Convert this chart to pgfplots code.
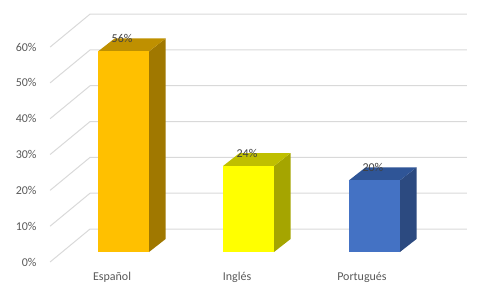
\documentclass[border=0pt]{standalone}
\usepackage{fontspec}
\setmainfont{Carlito}
\usepackage{pgfplots}
\pgfplotsset{compat=1.18}
\definecolor{gridc}{HTML}{D9D9D9}
\definecolor{ticktxt}{HTML}{595959}
\definecolor{labtxt}{HTML}{404040}
\definecolor{goldF}{HTML}{FFC000}
\definecolor{goldT}{HTML}{BF9000}
\definecolor{goldS}{HTML}{A07800}
\definecolor{yelF}{HTML}{FFFF00}
\definecolor{yelT}{HTML}{BFBF00}
\definecolor{yelS}{HTML}{A5A500}
\definecolor{bluF}{HTML}{4472C4}
\definecolor{bluT}{HTML}{2F5597}
\definecolor{bluS}{HTML}{2C4A80}
\begin{document}
\begin{tikzpicture}
\begin{axis}[
  scale only axis, width=481pt, height=294pt,
  xmin=0, xmax=481, ymin=-11.72, ymax=70.33,
  clip=false,
  /pgf/number format/assume math mode=true,
  axis line style={draw=none},
  major tick length=0pt,
  font=\fontsize{12}{14}\selectfont,
  xtick={112,237,362},
  xticklabels={Español,Inglés,Portugués},
  xticklabel style={anchor=center, yshift=17pt, text=ticktxt},
  ytick={-2.79,7.21,17.21,27.21,37.21,47.21,57.21},
  yticklabels={0\%,10\%,20\%,30\%,40\%,50\%,60\%},
  yticklabel style={anchor=east, xshift=40pt, text=ticktxt},
  every node near coord/.style={anchor=center, yshift=13pt, xshift=-1.5pt, text=labtxt, font=\fontsize{12}{14}\selectfont},
]
\path (rel axis cs:0,0) rectangle (rel axis cs:1,1);
% floor / wall gridlines
\addplot[gridc, line width=1pt] coordinates {(50,-2.79) (90,6.42) (467,6.42)};
\addplot[gridc, line width=1pt] coordinates {(50,7.21) (90,16.42) (467,16.42)};
\addplot[gridc, line width=1pt] coordinates {(50,17.21) (90,26.42) (467,26.42)};
\addplot[gridc, line width=1pt] coordinates {(50,27.21) (90,36.42) (467,36.42)};
\addplot[gridc, line width=1pt] coordinates {(50,37.21) (90,46.42) (467,46.42)};
\addplot[gridc, line width=1pt] coordinates {(50,47.21) (90,56.42) (467,56.42)};
\addplot[gridc, line width=1pt] coordinates {(50,57.21) (90,66.42) (467,66.42)};
% Español
\addplot[fill=goldS, draw=none] coordinates {(149,0) (165.6,3.63) (165.6,59.63) (149,56)} --cycle;
\addplot[fill=goldT, draw=none] coordinates {(98,56) (149,56) (165.6,59.63) (114.6,59.63)} --cycle;
\addplot[ybar, bar shift=0pt, bar width=51, fill=goldF, draw=none,
  point meta=y, nodes near coords={\pgfmathprintnumber{\pgfplotspointmeta}\%}]
  coordinates {(123.5,56)};
% Inglés
\addplot[fill=yelS, draw=none] coordinates {(274,0) (290.6,3.63) (290.6,27.63) (274,24)} --cycle;
\addplot[fill=yelT, draw=none] coordinates {(223,24) (274,24) (290.6,27.63) (239.6,27.63)} --cycle;
\addplot[ybar, bar shift=0pt, bar width=51, fill=yelF, draw=none,
  point meta=y, nodes near coords={\pgfmathprintnumber{\pgfplotspointmeta}\%}]
  coordinates {(248.5,24)};
% Portugués
\addplot[fill=bluS, draw=none] coordinates {(400,0) (416.6,3.63) (416.6,23.63) (400,20)} --cycle;
\addplot[fill=bluT, draw=none] coordinates {(349,20) (400,20) (416.6,23.63) (365.6,23.63)} --cycle;
\addplot[ybar, bar shift=0pt, bar width=51, fill=bluF, draw=none,
  point meta=y, nodes near coords={\pgfmathprintnumber{\pgfplotspointmeta}\%}]
  coordinates {(374.5,20)};
\end{axis}
\end{tikzpicture}
\end{document}
